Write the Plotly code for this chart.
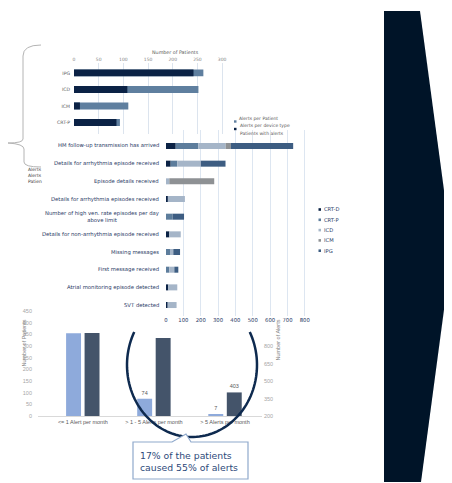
import numpy as np
import plotly.graph_objects as go

W, H = 452, 483

# ---------------- data ----------------
device_types = ["IPG", "ICD", "ICM", "CRT-P"]
alerts_per_device = [262, 252, 110, 93]
patients_with_alerts = [242, 108, 12, 86]
legend1_title = "Alerts per Patient"
legend1_names = ["Alerts per device type", "Patients with alerts"]
legend1_cut = ["Alerts", "Alerts", "Patien"]

message_types = [
    "HM follow-up transmission has arrived",
    "Details for arrhythmia episode received",
    "Episode details received",
    "Details for arrhythmia episodes received",
    "Number of high ven. rate episodes per day<br>above limit",
    "Details for non-arrhythmia episode received",
    "Missing messages",
    "First message received",
    "Atrial monitoring episode detected",
    "SVT detected",
]
series_names = ["CRT-D", "CRT-P", "ICD", "ICM", "IPG"]
crt_d = [56, 27, 0, 10, 0, 19, 0, 0, 13, 8]
crt_p = [130, 38, 0, 0, 38, 0, 23, 19, 0, 0]
icd = [158, 136, 19, 99, 0, 66, 19, 29, 52, 53]
icm = [30, 0, 259, 0, 0, 0, 0, 0, 0, 0]
ipg = [359, 142, 0, 0, 66, 0, 39, 23, 0, 0]

alert_groups = ["<= 1 Alert per month", "> 1 - 5 Alerts per month", "> 5 Alerts per month"]
patients_count = [355, 74, 7]
alerts_count = [914, 871, 403]

callout_text = "17% of the patients<br>caused 55% of alerts"

# ---------------- helpers ----------------
# the page body adds an 8px margin, so positions are laid out relative to it
OFF = 8

def px(x):
    return (x - OFF) / W

def py(y):
    return 1 - (y - OFF) / H

F1 = "DejaVu Sans"
F3 = "Liberation Sans"
NAVY = "#1f3864"

fig = go.Figure()

# ---------------- chart 1 (overlay bars) ----------------
c_light1 = "#5f7f9f"
c_dark1 = "#0b2245"
fig.add_trace(go.Bar(orientation="h", y=device_types, x=alerts_per_device,
                     marker=dict(color=c_light1, line=dict(width=0)), width=0.42,
                     xaxis="x", yaxis="y", name=legend1_names[0], showlegend=False))
fig.add_trace(go.Bar(orientation="h", y=device_types, x=patients_with_alerts,
                     marker=dict(color=c_dark1, line=dict(width=0)), width=0.42,
                     xaxis="x", yaxis="y", name=legend1_names[1], showlegend=False))

# ---------------- chart 2 (stacked via base) ----------------
colors2 = ["#0b2245", "#5d7d9c", "#a5b5c8", "#8e9194", "#3d5d82"]
series_vals = [crt_d, crt_p, icd, icm, ipg]
base = np.zeros(len(message_types))
for name, vals, col in zip(series_names, series_vals, colors2):
    v = np.array(vals, dtype=float)
    fig.add_trace(go.Bar(orientation="h", y=message_types, x=v, base=base.copy(),
                         marker=dict(color=col, line=dict(width=0)), width=0.34,
                         xaxis="x2", yaxis="y2", name=name, showlegend=False))
    base = base + v

# ---------------- chart 3 (two y axes) ----------------
c_light3 = "#8eaadb"
c_dark3 = "#44546a"
txt_p = [""] + [str(v) for v in patients_count[1:]]
txt_a = ["", ""] + [str(v) for v in alerts_count[2:]]
fig.add_trace(go.Bar(x=alert_groups, y=patients_count, offset=-0.235, width=0.21,
                     marker=dict(color=c_light3, line=dict(width=0)),
                     text=txt_p, textposition="outside", cliponaxis=False,
                     textfont=dict(family=F3, size=5.5, color="#595959"),
                     xaxis="x3", yaxis="y3", name="Number of Patients", showlegend=False))
fig.add_trace(go.Bar(x=alert_groups, y=alerts_count, offset=0.025, width=0.21,
                     marker=dict(color=c_dark3, line=dict(width=0)),
                     text=txt_a, textposition="outside", cliponaxis=False,
                     textfont=dict(family=F3, size=5.5, color="#595959"),
                     xaxis="x3", yaxis="y4", name="Number of Alerts", showlegend=False))

# ---------------- layout ----------------
fig.update_layout(
    width=W, height=H, autosize=False,
    margin=dict(l=0, r=0, t=0, b=0, pad=0, autoexpand=False),
    paper_bgcolor="white", plot_bgcolor="rgba(0,0,0,0)",
    barmode="overlay", showlegend=False,
    font=dict(family=F1, size=5, color="#595959"),
    xaxis=dict(domain=[px(74), px(232)], anchor="y", side="top", range=[0, 320], automargin=False,
               tickvals=[0, 50, 100, 150, 200, 250, 300], showgrid=True, gridcolor="#dce4ee",
               zeroline=False, showline=False, ticks="", ticklabelstandoff=0,
               tickfont=dict(family=F1, size=4.5, color="#7f7f7f")),
    yaxis=dict(domain=[py(134), py(63)], anchor="x", type="category", automargin=False,
               categoryorder="array", categoryarray=device_types, range=[3.7, -0.6],
               showgrid=False, zeroline=False, ticks="", ticklabelstandoff=3,
               tickfont=dict(family=F1, size=4.6, color="#595959")),
    xaxis2=dict(domain=[px(166), px(310)], anchor="y2", range=[0, 830], dtick=100, automargin=False,
                showgrid=True, gridcolor="#dde6f1", zeroline=False, showline=False, ticks="",
                tickfont=dict(family=F1, size=5.3, color=NAVY)),
    yaxis2=dict(domain=[py(316), py(130)], anchor="x2", type="category", automargin=False,
                categoryorder="array", categoryarray=message_types, range=[9.62, -0.905],
                showgrid=False, zeroline=False, showticklabels=False, ticks=""),
    xaxis3=dict(domain=[px(38), px(262)], anchor="y3", type="category", automargin=False,
                categoryorder="array", categoryarray=alert_groups, range=[-0.63, 2.52],
                showline=True, linecolor="#d9d9d9", linewidth=1, ticks="", showgrid=False,
                tickfont=dict(family=F3, size=5.5, color="#595959")),
    yaxis3=dict(domain=[py(416), py(311)], anchor="x3", range=[0, 450], dtick=50, automargin=False,
                showgrid=False, zeroline=False, ticks="", ticklabelstandoff=5,
                tickfont=dict(family=F3, size=5.5, color="#a6a6a6")),
    yaxis4=dict(overlaying="y3", anchor="x3", side="right", range=[200, 1104], automargin=False,
                tickvals=[200, 350, 500, 650, 800], showgrid=False, zeroline=False, ticks="",
                ticklabelstandoff=1, tickfont=dict(family=F3, size=5.5, color="#a6a6a6")),
)

ann = []
shapes = []

# chart 1 title + legend
ann.append(dict(x=px(150), y=py(48.5), xref="paper", yref="paper", text="Number of Patients",
                showarrow=False, font=dict(family=F1, size=4.8, color="#595959")))
ann.append(dict(x=px(237), y=py(114), xref="paper", yref="paper", text=legend1_title,
                xanchor="left", showarrow=False, font=dict(family=F1, size=4.5, color="#595959")))
for i, (nm, col) in enumerate(zip(legend1_names, [c_light1, c_dark1])):
    yy = 121.5 + i * 7.5
    shapes.append(dict(type="rect", xref="paper", yref="paper", x0=px(234), x1=px(236.5),
                       y0=py(yy + 1.2), y1=py(yy - 1.2), fillcolor=col, line=dict(width=0)))
    ann.append(dict(x=px(237.5), y=py(yy), xref="paper", yref="paper", text=nm, xanchor="left",
                    showarrow=False, font=dict(family=F1, size=4.5, color="#595959")))

# leftover cut legend text at left (one block of three lines)
ann.append(dict(x=px(27), y=py(175.5), xref="paper", yref="paper", text="<br>".join(legend1_cut),
                xanchor="left", align="left", showarrow=False, borderpad=0,
                font=dict(family=F1, size=4.5, color="#404040")))

# brace
brace = (f"M {px(41)},{py(45)} Q {px(23)},{py(45)} {px(23)},{py(56)} L {px(23)},{py(139)} "
         f"Q {px(23)},{py(143)} {px(8)},{py(143)} Q {px(24)},{py(144)} {px(24)},{py(149)} "
         f"L {px(24)},{py(162)} Q {px(24)},{py(167)} {px(41)},{py(167)}")
shapes.append(dict(type="path", xref="paper", yref="paper", path=brace,
                   line=dict(color="#b4b4b4", width=1)))

# chart 2 category labels
for cat in message_types:
    ann.append(dict(x=px(161), y=cat, xref="paper", yref="y2", text=cat, xanchor="right",
                    align="center", showarrow=False, font=dict(family=F1, size=5.3, color=NAVY)))

# chart 2 legend
for i, (nm, col) in enumerate(zip(series_names, colors2)):
    yy = 209.5 + i * 10.3
    shapes.append(dict(type="rect", xref="paper", yref="paper", x0=px(318.5), x1=px(321),
                       y0=py(yy + 1.3), y1=py(yy - 1.3), fillcolor=col, line=dict(width=0)))
    ann.append(dict(x=px(321.5), y=py(yy), xref="paper", yref="paper", text=nm, xanchor="left",
                    showarrow=False, font=dict(family=F1, size=5.2, color=NAVY)))

# chart 3 axis titles
ann.append(dict(x=px(18), y=py(369), xref="paper", yref="paper", text="Number of Patients",
                textangle=-90, showarrow=False, font=dict(family=F3, size=5.5, color="#7f7f7f")))
ann.append(dict(x=px(277), y=py(363), xref="paper", yref="paper", text="Number of Alerts",
                textangle=-90, showarrow=False, font=dict(family=F3, size=5.5, color="#7f7f7f")))

# circle (ellipse arc, visible part)
cx, cy, rx, ry = 192, 365, 65, 72
t0 = np.arcsin((332 - cy) / ry)
tt = np.linspace(t0, np.pi - t0, 90)
xs = cx + rx * np.cos(tt)
ys = cy + ry * np.sin(tt)
arc = "M " + " L ".join(f"{px(a)},{py(b)}" for a, b in zip(xs, ys))
shapes.append(dict(type="path", xref="paper", yref="paper", path=arc, layer="above",
                   line=dict(color="#0e2a4f", width=2.5)))

# callout box
callout = (f"M {px(133)},{py(442)} L {px(172)},{py(442)} L {px(186)},{py(434)} L {px(191)},{py(442)} "
           f"L {px(248)},{py(442)} L {px(248)},{py(479)} L {px(133)},{py(479)} Z")
shapes.append(dict(type="path", xref="paper", yref="paper", path=callout, layer="above",
                   fillcolor="white", line=dict(color="#8fa9cc", width=1.2)))
ann.append(dict(x=px(138), y=py(448), xref="paper", yref="paper", text=callout_text,
                xanchor="left", yanchor="top", align="left", showarrow=False,
                font=dict(family=F1, size=9.3, color="#2e4a7a")))

# chevron arrow
chev = (f"M {px(384)},{py(11)} L {px(420)},{py(11)} L {px(452)},{py(250)} "
        f"L {px(421)},{py(482)} L {px(384)},{py(482)} Z")
shapes.append(dict(type="path", xref="paper", yref="paper", path=chev,
                   fillcolor="#001428", line=dict(width=0)))

fig.update_layout(annotations=ann, shapes=shapes)
fig.write_html("out.html")
